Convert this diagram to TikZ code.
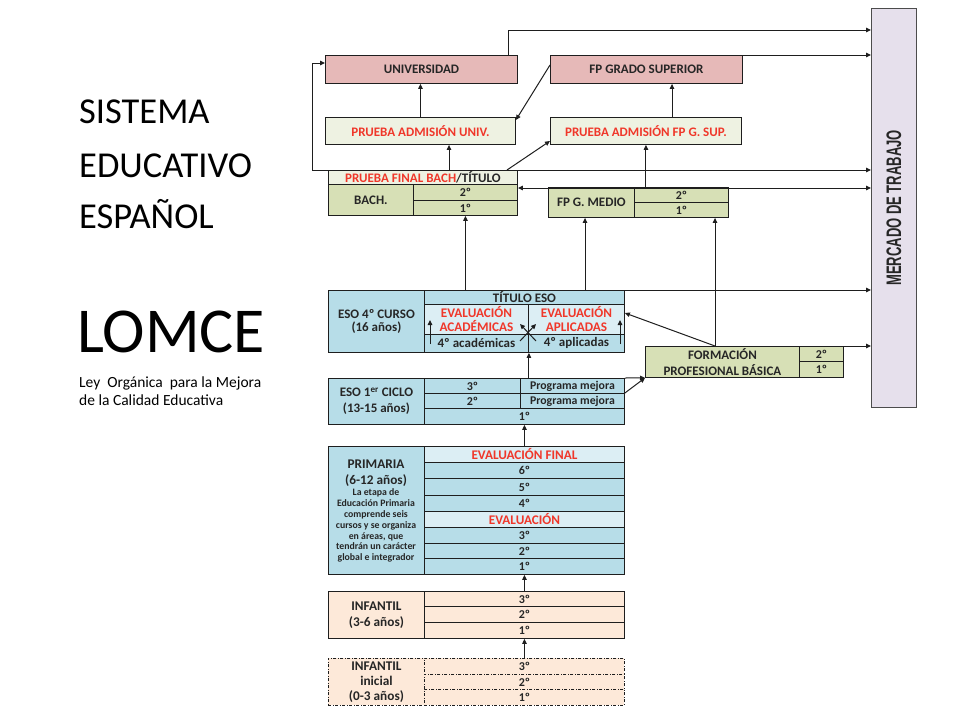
\documentclass[tikz,border=0pt]{standalone}
\usepackage{fontspec}
\usepackage{graphicx}
\setmainfont{Carlito}
\newfontfamily\arialf{Liberation Sans}
\usetikzlibrary{arrows.meta,calc}
\definecolor{pinkf}{HTML}{E6B9B8}
\definecolor{palef}{HTML}{EEF2E2}
\definecolor{olivef}{HTML}{D7E0B6}
\definecolor{bluef}{HTML}{B7DDE8}
\definecolor{lbluef}{HTML}{DCEEF4}
\definecolor{peachf}{HTML}{FDE9D9}
\definecolor{mercf}{HTML}{E6E0EC}
\definecolor{redc}{HTML}{F0372A}
\definecolor{txtc}{HTML}{262626}
\definecolor{linec}{HTML}{1E1E1E}
\newcommand\mkcell[7]{\node[cell,#6,minimum width={(#4)-(#2)},minimum height={(#5)-(#3)}] (#1) at (#2,#3) {#7};}
\begin{document}
\begin{tikzpicture}[x=1pt,y=-1pt,
  cell/.style={draw=linec,line width=0.9pt,inner sep=0pt,anchor=north west,align=center,text=txtc,font=\bfseries\fontsize{13}{13.5}\selectfont},
  rowt/.style={font=\bfseries\fontsize{12}{12}\selectfont},
  prog/.style={font=\bfseries\fontsize{11.8}{12}\selectfont},
  evalt/.style={text=redc,font=\bfseries\fontsize{13.2}{14}\selectfont},
  dashdot/.style={dash pattern=on 3pt off 1.5pt on 1pt off 1.5pt},
  arr/.style={draw=linec,line width=1pt,-{Triangle[length=5pt,width=4.5pt]}},
  arrb/.style={draw=linec,line width=1pt,{Triangle[length=5pt,width=4.5pt]}-{Triangle[length=5pt,width=4.5pt]}},
  side/.style={anchor=base west,inner sep=0pt,text=black}]
\useasboundingbox[fill=white] (0,0) rectangle (960,720);

% left titles
\node[side,font=\fontsize{36.5}{38}\selectfont] (t1) at (79,123) {SISTEMA};
\node[side,font=\fontsize{36.5}{38}\selectfont] (t2) at (79,177) {EDUCATIVO};
\node[side,font=\fontsize{36.5}{38}\selectfont] (t3) at (79,228) {ESPAÑOL};
\node[side,font=\fontsize{64}{66}\selectfont] (t4) at (77,352) {LOMCE};
\node[side,font=\fontsize{15.5}{17}\selectfont] (t5) at (79,387) {Ley~ Orgánica~ para la Mejora};
\node[side,font=\fontsize{15.5}{17}\selectfont] (t6) at (79,405) {de la Calidad Educativa};

% mercado
\mkcell{merc}{871}{8}{916}{407}{fill=mercf,draw=black!70}{}
\node[rotate=90,inner sep=0pt,text=txtc] (merct) at (merc.center) {\scalebox{0.62}[1]{\arialf\bfseries\fontsize{21}{22}\selectfont MERCADO DE TRABAJO}};

% top
\mkcell{univ}{325}{55}{517}{83}{fill=pinkf}{UNIVERSIDAD}
\mkcell{fpgs}{550}{55}{742}{83}{fill=pinkf}{FP GRADO SUPERIOR}
\mkcell{pau}{325}{117}{515}{144}{fill=palef,text=redc}{PRUEBA ADMISIÓN UNIV.}
\mkcell{pafp}{550}{117}{741}{144}{fill=palef,text=redc}{PRUEBA ADMISIÓN FP G. SUP.}
\mkcell{pfb}{328}{170}{517}{184}{fill=palef}{\textcolor{redc}{PRUEBA FINAL BACH}/TÍTULO}
\mkcell{bachl}{328}{184}{413}{215}{fill=olivef}{BACH.}
\mkcell{bach2}{413}{184}{517}{200}{fill=olivef,rowt}{2º}
\mkcell{bach1}{413}{200}{517}{215}{fill=olivef,rowt}{1º}
\mkcell{fpml}{548}{187}{634}{217}{fill=olivef}{FP G. MEDIO}
\mkcell{fpm2}{634}{187}{728}{202}{fill=olivef,rowt}{2º}
\mkcell{fpm1}{634}{202}{728}{217}{fill=olivef,rowt}{1º}

% ESO 4
\mkcell{eso4l}{328}{290}{424}{352}{fill=bluef}{ESO 4º CURSO\\(16 años)}
\mkcell{eso4t}{424}{290}{624}{304}{fill=bluef}{TÍTULO ESO}
\mkcell{evac}{424}{304}{528}{334}{fill=lbluef,evalt}{EVALUACIÓN\\ACADÉMICAS}
\mkcell{evap}{528}{304}{624}{334}{fill=lbluef,evalt}{EVALUACIÓN\\APLICADAS}
\mkcell{aca}{424}{334}{528}{352}{fill=bluef}{4º académicas}
\mkcell{apl}{528}{334}{624}{352}{fill=bluef}{4º aplicadas}

% FPB
\mkcell{fpbl}{645}{346}{799}{377}{fill=olivef,font=\bfseries\fontsize{13}{16}\selectfont}{FORMACIÓN\\PROFESIONAL BÁSICA}
\mkcell{fpb2}{799}{346}{843}{361}{fill=olivef,rowt}{2º}
\mkcell{fpb1}{799}{361}{843}{377}{fill=olivef,rowt}{1º}

% ESO 1
\mkcell{eso1l}{328}{378}{424}{424}{fill=bluef,font=\bfseries\fontsize{13}{16}\selectfont}{ESO 1\textsuperscript{er} CICLO\\(13-15 años)}
\mkcell{e13}{424}{378}{520}{393}{fill=bluef,rowt}{3º}
\mkcell{e13p}{520}{378}{624}{393}{fill=bluef,prog}{Programa mejora}
\mkcell{e12}{424}{393}{520}{408}{fill=bluef,rowt}{2º}
\mkcell{e12p}{520}{393}{624}{408}{fill=bluef,prog}{Programa mejora}
\mkcell{e11}{424}{408}{624}{424}{fill=bluef,rowt}{1º}

% Primaria
\mkcell{priml}{328}{446}{424}{574}{fill=bluef}{}
\node[align=center,text=txtc,inner sep=0pt,font=\bfseries\fontsize{13.3}{16}\selectfont] (primh) at (376,473) {PRIMARIA\\(6-12 años)};
\node[align=center,text=txtc,inner sep=0pt,font=\bfseries\fontsize{9.8}{10.9}\selectfont] (primt) at (376,525.5) {La etapa de\\Educación Primaria\\comprende seis\\cursos y se organiza\\en áreas, que\\tendrán un carácter\\global e integrador};
\mkcell{pef}{424}{446}{624}{462}{fill=lbluef,evalt}{EVALUACIÓN FINAL}
\mkcell{p6}{424}{462}{624}{478}{fill=bluef,rowt}{6º}
\mkcell{p5}{424}{478}{624}{495}{fill=bluef,rowt}{5º}
\mkcell{p4}{424}{495}{624}{511}{fill=bluef,rowt}{4º}
\mkcell{pev}{424}{511}{624}{527}{fill=lbluef,evalt}{EVALUACIÓN}
\mkcell{p3}{424}{527}{624}{543}{fill=bluef,rowt}{3º}
\mkcell{p2}{424}{543}{624}{558}{fill=bluef,rowt}{2º}
\mkcell{p1}{424}{558}{624}{574}{fill=bluef,rowt}{1º}

% Infantil
\mkcell{infl}{328}{591}{424}{638}{fill=peachf,font=\bfseries\fontsize{13.3}{16}\selectfont}{INFANTIL\\(3-6 años)}
\mkcell{i3}{424}{591}{624}{606}{fill=peachf,rowt}{3º}
\mkcell{i2}{424}{606}{624}{622}{fill=peachf,rowt}{2º}
\mkcell{i1}{424}{622}{624}{638}{fill=peachf,rowt}{1º}

% Infantil inicial
\mkcell{inil}{328}{658}{424}{705}{fill=peachf,dashdot,font=\bfseries\fontsize{13.3}{15}\selectfont}{INFANTIL\\inicial\\(0-3 años)}
\mkcell{n3}{424}{658}{624}{674}{fill=peachf,dashdot,rowt}{3º}
\mkcell{n2}{424}{674}{624}{689}{fill=peachf,dashdot,rowt}{2º}
\mkcell{n1}{424}{689}{624}{705}{fill=peachf,dashdot,rowt}{1º}

% coordinates
\coordinate (u1) at (508,55);
\coordinate (b1) at (449,170);
\coordinate (b2) at (507,170);
\coordinate (f1) at (672,117);
\coordinate (g1) at (585,290);
\coordinate (g2) at (715,346);
\coordinate (s1) at (430,344);
\coordinate (s1t) at (430,320);
\coordinate (s2) at (620,344);
\coordinate (s2t) at (620,320);
\coordinate (x1) at (520,341);
\coordinate (x1t) at (536,324);
\coordinate (x2) at (536,341);
\coordinate (x2t) at (520,324);

% connectors
\draw[arr] (u1) |- (merc.west |- 0,30);
\draw[arr] (fpgs.north east) -- (merc.west |- fpgs.north east);
\draw[arr] (pau.north) -- (pau.north |- univ.south);
\draw[arr] (b1) -- (b1 |- pau.south);
\draw[arr] (b2) -- (pafp.west |- 0,141);
\draw[arr] (fpgs.west |- 0,65) -- (pau.east |- 0,120);
\draw[arr] (pafp.south |- fpm2.north) -- (pafp.south);
\draw[arr] (f1) -- (f1 |- fpgs.south);
\draw[arr] (pfb.north west) -| (312,63) -- (univ.west |- 0,63);
\draw[arr] (pfb.north east) -- (merc.west |- pfb.north east);
\draw[arrb] (bach2.east |- 0,188) -- (merc.west |- 0,188);
\draw[arr] (bach1.south |- eso4t.north) -- (bach1.south);
\draw[arr] (g1) -- (g1 |- fpml.south);
\draw[arr] (g2) -- (g2 |- fpm1.south);
\draw[arr] (eso4t.north east) -- (merc.west |- eso4t.north east);
\draw[arr] (fpb2.north east) -- (merc.west |- fpb2.north east);
\draw[arr] (g2) -- (evap.east |- 0,313);
\draw[arr] (e13p.north east) -- (fpbl.south west);
\draw[arr] (e12p.north east) -- (fpbl.south west);
\draw[arr] (aca.south east |- e13.north) -- (aca.south east);
\draw[arr] (e11.south |- pef.north) -- (e11.south);
\draw[arr] (p1.south |- i3.north) -- (p1.south);
\draw[arr] (i1.south |- n3.north) -- (i1.south);
\draw[arr] (s1) -- (s1t);
\draw[arr] (s2) -- (s2t);
\draw[arr] (x1) -- (x1t);
\draw[arr] (x2) -- (x2t);
\end{tikzpicture}
\end{document}
